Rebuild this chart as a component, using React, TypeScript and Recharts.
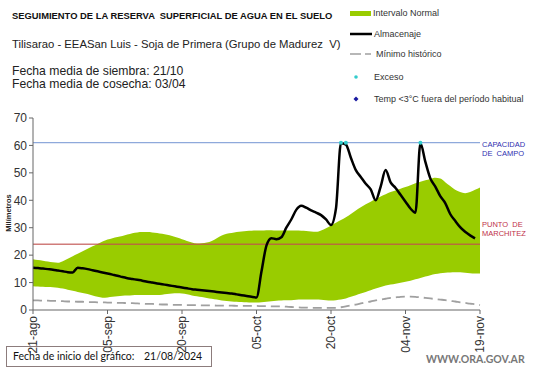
import {
  ComposedChart,
  Area,
  Line,
  XAxis,
  YAxis,
  ReferenceLine,
  Label,
} from "recharts";

// days since 21/08/2024, one value per day
const tickDays = [0, 15, 30, 45, 60, 75, 90];
const tickLabels = ["21-ago", "05-sep", "20-sep", "05-oct", "20-oct", "04-nov", "19-nov"];

const normalHigh = [
  18.5, 18.2, 18.0, 17.7, 17.4, 17.2, 17.8, 18.7, 19.6, 20.5,
  21.4, 22.3, 23.2, 24.1, 25.0, 25.7, 26.2, 26.6, 27.0, 27.5,
  28.0, 28.3, 28.4, 28.4, 28.3, 28.1, 27.8, 27.4, 27.0, 26.4,
  25.8, 25.2, 24.6, 24.2, 24.3, 24.6, 25.2, 26.2, 27.2, 27.8,
  28.1, 28.4, 28.6, 28.8, 28.9, 29.0, 29.0, 29.1, 29.1, 29.0,
  29.0, 29.0, 29.0, 29.0, 28.9, 28.8, 28.6, 28.5, 29.0, 29.8,
  30.8, 31.8, 32.8, 33.8, 35.0, 36.3, 37.5, 38.6, 39.5, 40.5,
  41.4, 42.2, 43.0, 43.6, 44.2, 44.8, 45.5, 46.2, 46.8, 47.3,
  47.8, 48.2, 47.9, 46.6, 45.2, 43.8, 43.0, 42.6, 43.0, 43.8,
  44.7,
];

const normalLow = [
  8.7, 8.6, 8.5, 8.4, 8.3, 8.1, 7.8, 7.4, 7.0, 6.6,
  6.2, 5.8, 5.3, 4.8, 4.5, 4.6, 4.8, 5.0, 5.2, 5.3,
  5.4, 5.5, 5.5, 5.5, 5.5, 5.5, 5.6, 5.8, 6.0, 6.1,
  6.0, 5.7, 5.3, 5.0, 4.7, 4.4, 4.1, 3.8, 3.5, 3.3,
  3.1, 3.0, 2.9, 2.8, 2.7, 2.7, 2.8, 3.0, 3.2, 3.4,
  3.5, 3.6, 3.6, 3.7, 3.8, 3.8, 3.8, 3.8, 3.7, 3.6,
  3.5, 3.6, 3.8, 4.2, 4.8, 5.4, 6.0, 6.6, 7.2, 7.8,
  8.4, 8.9, 9.3, 9.6, 9.9, 10.3, 10.7, 11.2, 11.7, 12.2,
  12.7, 13.1, 13.4, 13.6, 13.7, 13.8, 13.8, 13.6, 13.4, 13.3,
  13.3,
];

const almacenaje = [
  15.4, 15.3, 15.1, 14.9, 14.7, 14.4, 14.1, 13.8, 13.7, 15.4,
  15.2, 14.9, 14.5, 14.1, 13.7, 13.3, 12.9, 12.5, 12.0, 11.6,
  11.3, 11.0, 10.7, 10.3, 10.0, 9.7, 9.4, 9.1, 8.8, 8.5,
  8.2, 7.9, 7.6, 7.4, 7.2, 7.0, 6.8, 6.6, 6.4, 6.2,
  6.0, 5.7, 5.4, 5.1, 4.8, 4.6, 14.0, 23.5, 26.2, 25.8,
  26.5, 30.0, 33.0, 36.5, 38.0, 37.3, 36.3, 35.5, 34.6, 33.0,
  31.0, 37.0, 60.8, 60.3, 55.5, 51.0, 48.5, 46.0, 44.0, 40.0,
  45.0, 51.0, 46.5, 44.5, 42.0, 39.5, 37.0, 35.5, 60.8, 54.0,
  48.0, 45.0, 41.5, 39.0, 35.0, 32.5, 30.2, 28.5, 27.2, 26.1,
  null,
];

const minimo = [
  3.5, 3.5, 3.4, 3.4, 3.3, 3.3, 3.2, 3.1, 3.1, 3.0,
  3.0, 2.9, 2.9, 2.8, 2.8, 2.7, 2.7, 2.6, 2.6, 2.5,
  2.5, 2.4, 2.3, 2.2, 2.2, 2.1, 2.0, 2.0, 1.9, 1.9,
  1.9, 1.8, 1.8, 1.8, 1.7, 1.7, 1.7, 1.6, 1.6, 1.6,
  1.6, 1.5, 1.5, 1.5, 1.5, 1.5, 1.4, 1.4, 1.3, 1.3,
  1.3, 1.2, 1.1, 1.0, 0.9, 0.9, 0.8, 0.8, 0.8, 0.8,
  0.8, 0.8, 1.0, 1.3, 1.7, 2.0, 2.4, 2.8, 3.1, 3.5,
  3.8, 4.1, 4.4, 4.6, 4.8, 4.9, 4.9, 4.8, 4.6, 4.4,
  4.2, 4.0, 3.8, 3.6, 3.3, 3.1, 2.8, 2.6, 2.3, 2.1,
  1.8,
];

// days where the reserve hit field capacity
const excesoDays = [62, 63, 78];

const CAPACIDAD = 61;
const MARCHITEZ = 24;

const data = normalHigh.map((hi, i) => ({
  day: i,
  normal: [normalLow[i], hi],
  almacenaje: almacenaje[i],
  minimo: minimo[i],
  exceso: excesoDays.includes(i) ? CAPACIDAD : null,
}));

const FONT = "'Liberation Sans', Arial, sans-serif";

function renderDateTick(props: any) {
  const { x, y, payload } = props;
  const label = tickLabels[tickDays.indexOf(payload.value)];
  return (
    <g key={`t-${payload.value}`} transform={`translate(${x},${y})`}>
      <text
        transform="rotate(-90)"
        x={0}
        y={0}
        textAnchor="end"
        dy="0.35em"
        fontSize={12}
        fill="#333"
        fontFamily={FONT}
      >
        {label}
      </text>
    </g>
  );
}

function SideLabel({ viewBox, lines, color, offsets }: any) {
  const x = viewBox.x + viewBox.width + 2;
  return (
    <text fontSize={7.5} fill={color} fontFamily={FONT} style={{ whiteSpace: "pre" }}>
      {lines.map((l: string, i: number) => (
        <tspan key={l} x={x} y={viewBox.y + offsets[i]}>
          {l}
        </tspan>
      ))}
    </text>
  );
}

function ChartLegend() {
  const t = { fontSize: 9, fill: "#333", fontFamily: FONT };
  return (
    <svg width={541} height={120} style={{ position: "absolute", left: 0, top: 0, pointerEvents: "none" }}>
      <rect x={350} y={11} width={21} height={5} fill="#99cc00" />
      <text x={373} y={16} {...t}>Intervalo Normal</text>
      <line x1={350} x2={372} y1={34} y2={34} stroke="#000" strokeWidth={2.5} />
      <text x={374} y={37} {...t}>Almacenaje</text>
      <line x1={350} x2={372} y1={54} y2={54} stroke="#a0a0a0" strokeWidth={1.5} strokeDasharray="11 4 6" />
      <text x={376} y={57} {...t}>Mínimo histórico</text>
      <circle cx={356} cy={77} r={1.8} fill="#33cccc" />
      <text x={374} y={80} {...t}>Exceso</text>
      <path d="M356 96.5 L358.5 99 L356 101.5 L353.5 99 Z" fill="#1a1aa0" />
      <text x={374} y={102} {...t}>Temp &lt;3°C fuera del período habitual</text>
    </svg>
  );
}

export default function App() {
  return (
    <div
      style={{
        position: "absolute",
        left: 0,
        top: 0,
        width: 541,
        height: 368,
        background: "#fff",
        fontFamily: FONT,
        color: "#111",
      }}
    >
      <div style={{ position: "absolute", left: 12, top: 10, fontSize: 9.4, fontWeight: "bold", whiteSpace: "pre" }}>
        SEGUIMIENTO DE LA RESERVA  SUPERFICIAL DE AGUA EN EL SUELO
      </div>
      <div style={{ position: "absolute", left: 12, top: 38, fontSize: 11.3, color: "#222" }}>
        Tilisarao - EEASan Luis - Soja de Primera (Grupo de Madurez&nbsp; V)
      </div>
      <div style={{ position: "absolute", left: 12, top: 65, fontSize: 12.2, color: "#222", lineHeight: "13px" }}>
        Fecha media de siembra: 21/10
        <br />
        Fecha media de cosecha: 03/04
      </div>

      <div style={{ position: "absolute", left: 0, top: 0 }}>
        <ComposedChart width={541} height={368} data={data} margin={{ top: 118, right: 61, bottom: 28, left: 0 }}>
          <XAxis
            dataKey="day"
            type="number"
            domain={[0, 90]}
            ticks={tickDays}
            height={30}
            tick={renderDateTick}
            tickSize={4}
            stroke="#666"
            interval={0}
          />
          <YAxis
            type="number"
            domain={[0, 70]}
            ticks={[0, 10, 20, 30, 40, 50, 60, 70]}
            width={33}
            tickSize={4}
            stroke="#666"
            tick={{ fontSize: 12, fill: "#333", fontFamily: FONT }}
          >
            <Label
              content={() => (
                <text
                  x={11}
                  y={213}
                  transform="rotate(-90 11 213)"
                  textAnchor="middle"
                  fontSize={7.5}
                  fontWeight="bold"
                  fill="#222"
                  fontFamily={FONT}
                >
                  Milímetros
                </text>
              )}
            />
          </YAxis>
          <Area
            dataKey="normal"
            type="monotone"
            fill="#99cc00"
            fillOpacity={1}
            stroke="none"
            isAnimationActive={false}
          />
          <ReferenceLine
            y={CAPACIDAD}
            stroke="#8ea9db"
            strokeWidth={1.2}
            label={(p: any) => (
              <SideLabel {...p} lines={["CAPACIDAD", "DE  CAMPO"]} color="#3030b0" offsets={[4, 13]} />
            )}
          />
          <ReferenceLine
            y={MARCHITEZ}
            stroke="#c0504d"
            strokeOpacity={0.75}
            strokeWidth={1.5}
            label={(p: any) => (
              <SideLabel {...p} lines={["PUNTO  DE", "MARCHITEZ"]} color="#c03048" offsets={[-17, -8]} />
            )}
          />
          <Line
            dataKey="minimo"
            type="monotone"
            stroke="#a0a0a0"
            strokeWidth={1.8}
            strokeDasharray="9 5"
            dot={false}
            isAnimationActive={false}
          />
          <Line
            dataKey="almacenaje"
            type="monotone"
            stroke="#000"
            strokeWidth={2.5}
            dot={false}
            connectNulls={false}
            isAnimationActive={false}
          />
          <Line
            dataKey="exceso"
            stroke="none"
            dot={{ r: 2, fill: "#33cccc", stroke: "none" }}
            isAnimationActive={false}
          />
        </ComposedChart>
      </div>

      <ChartLegend />

      <div
        style={{
          position: "absolute",
          left: 6,
          top: 346,
          width: 206,
          height: 21,
          border: "1px solid #8c7c7c",
          boxSizing: "border-box",
          fontFamily: "Lato, sans-serif",
          fontSize: 10.5,
          lineHeight: "19px",
          color: "#111",
          paddingLeft: 6,
        }}
      >
        Fecha de inicio del gráfico:
        <span style={{ position: "absolute", left: 137, top: 0 }}>21/08/2024</span>
      </div>
      <div
        style={{
          position: "absolute",
          left: 426,
          top: 353,
          fontFamily: "Lato, sans-serif",
          fontSize: 10.5,
          fontWeight: "bold",
          color: "#777",
        }}
      >
        WWW.ORA.GOV.AR
      </div>
    </div>
  );
}
